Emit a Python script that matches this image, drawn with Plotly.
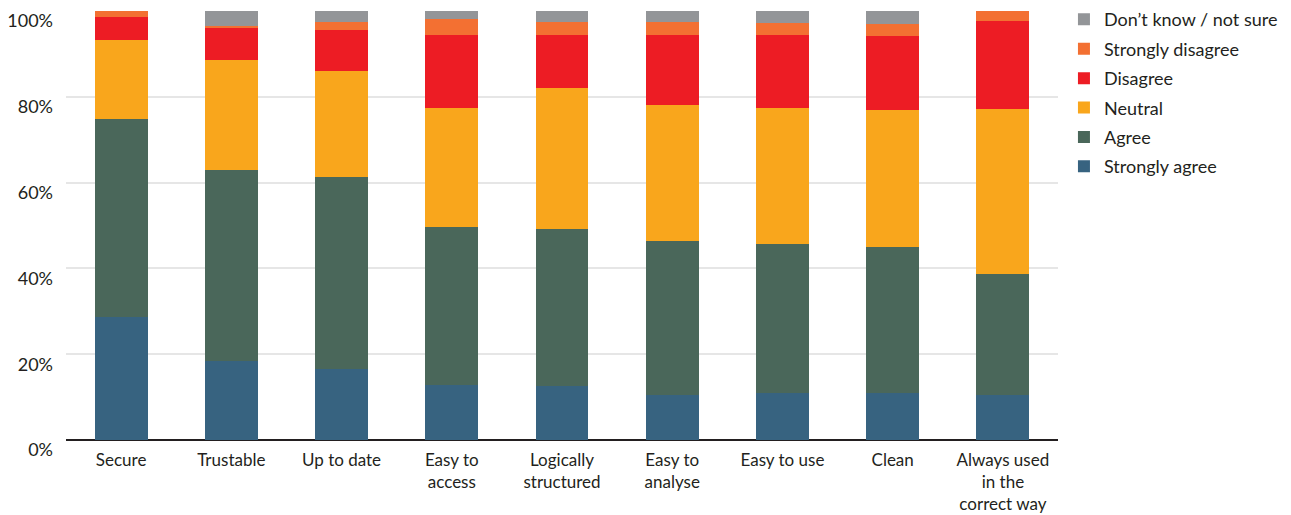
import plotly.graph_objects as go

categories = ["Secure", "Trustable", "Up to date", "Easy to<br>access", "Logically<br>structured",
              "Easy to<br>analyse", "Easy to use", "Clean", "Always used<br>in the<br>correct way"]

strongly_agree = [28.6, 18.4, 16.5, 12.9, 12.7, 10.6, 10.9, 11.0, 10.4]
agree = [46.3, 44.6, 44.8, 36.8, 36.5, 35.8, 34.8, 34.1, 28.3]
neutral = [18.3, 25.6, 24.7, 27.7, 32.9, 31.7, 31.7, 31.8, 38.4]
disagree = [5.4, 7.4, 9.6, 17.0, 12.4, 16.4, 17.0, 17.3, 20.5]
strongly_disagree = [1.4, 0.6, 1.9, 3.7, 2.9, 2.9, 2.7, 2.7, 2.4]
dont_know = [0.0, 3.4, 2.5, 1.9, 2.6, 2.6, 2.9, 3.1, 0.0]

series = [
    ("Strongly agree", strongly_agree, "#376380"),
    ("Agree", agree, "#4a675a"),
    ("Neutral", neutral, "#f9a61c"),
    ("Disagree", disagree, "#ed1c24"),
    ("Strongly disagree", strongly_disagree, "#f37032"),
    ("Don\u2019t know / not sure", dont_know, "#939598"),
]

y_ticks = [0, 20, 40, 60, 80, 100]
y_tick_text = [f"{v}%" for v in y_ticks]

fig = go.Figure()
n = len(series)
for i, (name, vals, color) in enumerate(series):
    # stacked bottom-up; legend lists the top segment first
    fig.add_trace(go.Bar(x=categories, y=vals, name=name, legendgroup=name,
                         legendrank=n - i,
                         marker=dict(color=color, line=dict(width=0))))

font_family = "Lato, 'Noto Sans', sans-serif"
text_color = "#231f20"
fs = 18

fig.update_layout(
    barmode="stack",
    bargap=0.52,
    width=1291,
    height=515,
    margin=dict(l=66, r=233, t=11, b=75, autoexpand=False),
    paper_bgcolor="white",
    plot_bgcolor="white",
    font=dict(family=font_family, size=fs, color=text_color),
    legend=dict(
        traceorder="grouped",
        tracegroupgap=3,
        x=1.006, y=1.023, xanchor="left", yanchor="top",
        font=dict(size=fs, color=text_color),
        bgcolor="rgba(0,0,0,0)",
    ),
    xaxis=dict(
        showgrid=False,
        tickfont=dict(size=17, color=text_color),
        ticks="",
        showline=False,
        ticklabelstandoff=8,
        automargin=False,
    ),
    yaxis=dict(
        range=[0, 100],
        tickvals=y_ticks,
        ticktext=y_tick_text,
        showgrid=True,
        gridcolor="#e6e6e6",
        gridwidth=1.5,
        zeroline=True,
        zerolinecolor=text_color,
        zerolinewidth=2,
        tickfont=dict(size=fs, color=text_color),
        ticklabelshift=10,
        ticklabelstandoff=12,
        automargin=False,
    ),
)

fig.write_html("out.html")
